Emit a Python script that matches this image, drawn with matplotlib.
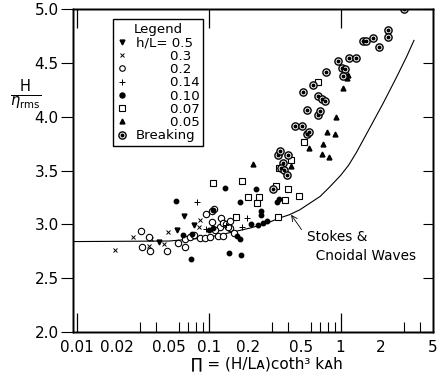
import numpy as np
import matplotlib.pyplot as plt
from matplotlib.lines import Line2D
from matplotlib.ticker import FixedLocator, LogLocator, NullFormatter

# data: Pi = (H/L_A) coth^3 k_A h  vs  H / eta_rms
# h/L = 0.5
x_05 = [0.042, 0.0576, 0.065, 0.077]
y_05 = [2.84, 2.95, 3.08, 2.99]
# h/L = 0.3
x_03 = [0.0196, 0.0267, 0.0351, 0.0362, 0.0459, 0.0492, 0.0856, 0.0844]
y_03 = [2.76, 2.887, 2.795, 2.86, 2.816, 2.93, 3.04, 2.98]
# h/L = 0.2
x_02 = [0.0309, 0.031, 0.0355, 0.036, 0.0483, 0.0586, 0.066, 0.066, 0.072, 0.077,
        0.086, 0.0934, 0.096, 0.103, 0.105, 0.105, 0.109, 0.118, 0.122, 0.125,
        0.129, 0.129, 0.136, 0.1446, 0.146, 0.155, 0.112, 0.14]
y_02 = [2.94, 2.785, 2.885, 2.75, 2.755, 2.83, 2.79, 2.86, 2.887, 2.90,
        2.87, 2.87, 3.10, 2.88, 3.02, 3.125, 3.14, 2.89, 2.98, 3.06,
        3.01, 2.89, 3.0, 3.03, 2.965, 2.92, 2.95, 2.975]
# h/L = 0.14
x_014 = [0.081, 0.180, 0.195, 0.095, 0.135]
y_014 = [3.21, 2.98, 3.06, 2.96, 2.99]
# h/L = 0.10
x_010 = [0.0564, 0.0731, 0.064, 0.075, 0.108, 0.107, 0.132, 0.143, 0.164, 0.174,
         0.177, 0.174, 0.229, 0.247, 0.248, 0.211, 0.237, 0.259, 0.275, 0.327,
         0.342, 0.1]
y_010 = [3.22, 2.68, 2.90, 2.91, 2.965, 3.13, 3.34, 2.735, 2.89, 2.86,
         2.715, 3.21, 3.325, 3.12, 3.09, 3.0, 2.995, 3.01, 3.03, 3.21,
         3.235, 2.945]
# h/L = 0.07
x_007 = [0.108, 0.179, 0.199, 0.241, 0.232, 0.161, 0.333, 0.378, 0.480, 0.323,
         0.40, 0.342, 0.42, 0.525, 0.676]
y_007 = [3.385, 3.40, 3.25, 3.25, 3.20, 3.07, 3.07, 3.23, 3.265, 3.36,
         3.33, 3.52, 3.60, 3.77, 4.32]
# h/L = 0.05
x_005 = [0.215, 0.42, 0.578, 0.718, 0.738, 0.815, 0.783, 0.906, 0.93, 1.047, 1.11, 1.14]
y_005 = [3.56, 3.54, 3.71, 3.65, 3.745, 3.63, 3.856, 3.84, 4.0, 4.27, 4.36, 4.39]
# breaking
x_brk = [0.308, 0.337, 0.346, 0.367, 0.356, 0.372, 0.393, 0.40, 0.45, 0.506,
         0.558, 0.578, 0.552, 0.669, 0.697, 0.52, 0.62, 0.676, 0.718, 0.76,
         0.78, 0.96, 1.017, 1.078, 1.035, 1.16, 1.31, 1.48, 1.56, 1.77,
         1.95, 2.27, 2.27, 3.04]
y_brk = [3.33, 3.645, 3.68, 3.57, 3.52, 3.505, 3.46, 3.64, 3.91, 3.91,
         3.84, 3.856, 4.06, 4.02, 4.05, 4.23, 4.295, 4.195, 4.165, 4.15,
         4.42, 4.52, 4.45, 4.44, 4.38, 4.55, 4.55, 4.70, 4.70, 4.73,
         4.65, 4.805, 4.74, 5.0]

# Stokes & cnoidal wave theory curve
x_th = [0.0093, 0.05, 0.0856, 0.115, 0.153, 0.205, 0.275, 0.346, 0.41, 0.49,
        0.59, 0.70, 0.83, 1.0, 1.15, 1.32, 1.67, 2.1, 2.66, 3.17, 3.60]
y_th = [2.84, 2.845, 2.87, 2.895, 2.93, 2.965, 3.01, 3.06, 3.09, 3.135,
        3.20, 3.26, 3.35, 3.455, 3.55, 3.67, 3.90, 4.125, 4.37, 4.56, 4.71]

fig = plt.figure(figsize=(4.43, 3.82), dpi=100)
ax = fig.add_axes([0.164, 0.131, 0.813, 0.845])

ax.plot(x_th, y_th, color='black', lw=0.8)

ax.plot(x_05, y_05, 'v', color='black', ms=3.5, ls='none')
ax.plot(x_03, y_03, 'x', color='black', ms=3.2, mew=0.7, ls='none')
ax.plot(x_02, y_02, 'o', mfc='white', mec='black', ms=4.6, mew=0.8, ls='none')
ax.plot(x_014, y_014, '+', color='black', ms=4, mew=0.7, ls='none')
ax.plot(x_010, y_010, 'o', color='black', ms=3.2, ls='none')
ax.plot(x_007, y_007, 's', mfc='white', mec='black', ms=4.3, mew=0.8, ls='none')
ax.plot(x_005, y_005, '^', color='black', ms=3.5, ls='none')
ax.plot(x_brk, y_brk, 'o', mfc='white', mec='black', ms=5.2, mew=1.0, ls='none')
ax.plot(x_brk, y_brk, 'o', color='black', ms=1.8, ls='none')

ax.set_xscale('log')
ax.set_xlim(0.0093, 5.0)
ax.set_ylim(2.0, 5.0)

xt = [0.01, 0.02, 0.05, 0.1, 0.2, 0.5, 1, 2, 5]
ax.set_xticks(xt)
ax.set_xticklabels(['0.01', '0.02', '0.05', '0.1', '0.2', '0.5', '1', '2', '5'])
ax.xaxis.set_minor_locator(LogLocator(base=10, subs=np.arange(2, 10)))
ax.xaxis.set_minor_formatter(NullFormatter())
ax.tick_params(axis='x', which='both', direction='in', top=True, bottom=True, labelsize=11)
ax.tick_params(axis='x', which='major', length=0, pad=6)
ax.tick_params(axis='x', which='minor', length=7, width=0.8)

# long decade ticks on top and bottom
ax2 = ax.twiny()
ax2.set_xscale('log')
ax2.set_xlim(ax.get_xlim())
ax2.xaxis.set_major_locator(FixedLocator([0.01, 0.1, 1]))
ax2.xaxis.set_minor_locator(FixedLocator([]))
ax2.tick_params(axis='x', which='major', direction='in', length=14, width=0.9,
                top=True, bottom=True, labeltop=False, labelbottom=False)

yt = np.arange(2.0, 5.01, 0.5)
ax.set_yticks(yt)
ax.set_yticklabels(['%.1f' % v for v in yt])
ax.tick_params(axis='y', which='major', direction='out', length=9, width=0.8,
               labelsize=11, left=True, right=False, pad=1)
ax3 = ax.twinx()
ax3.set_ylim(ax.get_ylim())
ax3.set_yticks(yt)
ax3.tick_params(axis='y', direction='in', length=7, width=0.8, labelright=False)

for a in (ax, ax2, ax3):
    for s in a.spines.values():
        s.set_linewidth(1.0)

ax.set_ylabel(r'$\frac{\mathrm{H}}{\eta_{\mathrm{rms}}}$', rotation=0, fontsize=15,
              va='center', ha='center')
ax.yaxis.set_label_coords(-0.13, 0.735)
ax.set_xlabel('\u220f = (H/L\u1d00)coth\u00b3 k\u1d00h', fontsize=11)
ax.xaxis.set_label_coords(0.54, -0.075)

ax.annotate('', xy=(0.41, 3.11), xytext=(0.52, 2.93),
            arrowprops=dict(arrowstyle='->', lw=0.6, color='black'))
ax.text(0.552, 2.95, 'Stokes &\n  Cnoidal Waves', ha='left', va='top',
        fontsize=9.8, linespacing=1.45)

pad = '        '
handles = [
    Line2D([], [], marker='v', color='black', ms=3.5, ls='none'),
    Line2D([], [], marker='x', color='black', ms=3.2, mew=0.7, ls='none'),
    Line2D([], [], marker='o', mfc='white', mec='black', ms=4.0, mew=0.8, ls='none'),
    Line2D([], [], marker='+', color='black', ms=4, mew=0.7, ls='none'),
    Line2D([], [], marker='o', color='black', ms=3.6, ls='none'),
    Line2D([], [], marker='s', mfc='white', mec='black', ms=3.8, mew=0.8, ls='none'),
    Line2D([], [], marker='^', color='black', ms=3.5, ls='none'),
    (Line2D([], [], marker='o', mfc='white', mec='black', ms=5.2, mew=1.0, ls='none'),
     Line2D([], [], marker='o', color='black', ms=1.8, ls='none')),
]
labels = ['h/L= 0.5', pad + '0.3', pad + '0.2', pad + '0.14', pad + '0.10',
          pad + '0.07', pad + '0.05', 'Breaking']
leg = ax.legend(handles, labels, title='Legend', loc='upper left',
                bbox_to_anchor=(0.112, 0.969), fontsize=9.6, title_fontsize=9.6,
                frameon=True, fancybox=False, edgecolor='black', framealpha=1,
                handlelength=0.8, handletextpad=0.6, labelspacing=0.02,
                borderpad=0.3, borderaxespad=0)
leg.get_frame().set_linewidth(1.0)

fig.savefig('out.png', dpi=100)
